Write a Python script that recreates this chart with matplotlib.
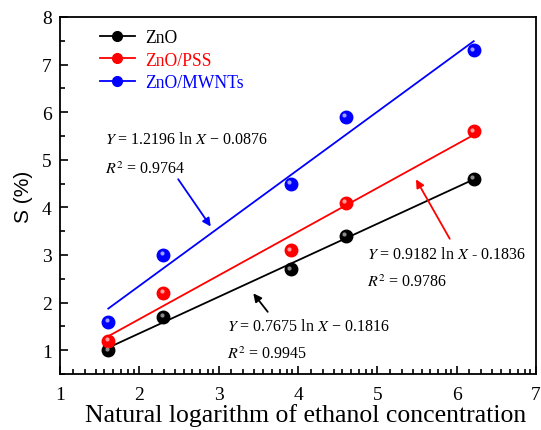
import numpy as np
import matplotlib
matplotlib.use("Agg")
import matplotlib.pyplot as plt
from matplotlib.lines import Line2D
from matplotlib import transforms as mtransforms
from matplotlib.ticker import FixedLocator, MultipleLocator

plt.rcParams['font.family'] = ['Liberation Serif', 'DejaVu Serif']
plt.rcParams['mathtext.fontset'] = 'stix'

# data
ln_conc = [1.609, 2.303, 3.912, 4.605, 6.215]
series_names = ["ZnO", "ZnO/PSS", "ZnO/MWNTs"]
zno = [1.0, 1.7, 2.7, 3.4, 4.6]
zno_pss = [1.2, 2.2, 3.1, 4.1, 5.6]
zno_mwnts = [1.6, 3.0, 4.5, 5.9, 7.3]
slopes = [0.7675, 0.9182, 1.2196]
intercepts = [-0.1816, -0.1836, -0.0876]
eq_texts = [r"$Y$ = 0.7675 ln $X$ − 0.1816", r"$Y$ = 0.9182 ln $X$ - 0.1836", r"$Y$ = 1.2196 ln $X$ − 0.0876"]
r2_texts = [r"$R^2$ = 0.9945", r"$R^2$ = 0.9786", r"$R^2$ = 0.9764"]
colors = ["black", "red", "blue"]
hl_colors = ["#9a9a9a", "#ffb0b0", "#b0b0ff"]

fig = plt.figure(figsize=(5.41, 4.31), dpi=100)
ax = fig.add_axes([60/541, 1-375/431, (536-60)/541, (375-18)/431])

x = np.array(ln_conc)
for ys, a, b, c, hc in zip([zno, zno_pss, zno_mwnts], slopes, intercepts, colors, hl_colors):
    xf = np.array([x[0], x[-1]])
    ax.plot(xf, a * xf + b, color=c, lw=1.3, zorder=2)
    ax.plot(x, ys, 'o', ms=9, mfc=c, mec=c, zorder=3)
    off = mtransforms.offset_copy(ax.transData, fig=fig, x=-1.2, y=1.2, units='points')
    ax.plot(x, ys, 'o', ms=3, mfc=hc, mec='none', alpha=0.9, zorder=4, transform=off)

ax.set_xlim(1, 7)
ax.set_ylim(0.5, 8)
ax.set_xticks([1, 2, 3, 4, 5, 6, 7])
ax.set_yticks([1, 2, 3, 4, 5, 6, 7, 8])
fr = [0.16, 0.31, 0.45, 0.56, 0.67, 0.77, 0.86, 0.93]
ax.xaxis.set_minor_locator(FixedLocator([m + f for m in range(1, 7) for f in fr]))
ax.yaxis.set_minor_locator(MultipleLocator(0.5))
ax.tick_params(which='both', direction='in', top=False, right=False, labelsize=14, width=1.2)
ax.tick_params(axis='x', which='major', pad=9)
ax.tick_params(axis='y', which='major', pad=6)
ax.tick_params(which='major', length=6)
ax.tick_params(which='minor', length=3.5)
for s in ax.spines.values():
    s.set_linewidth(1.3)

ax.set_xlabel("Natural logarithm of ethanol concentration", fontsize=18.5)
ax.xaxis.set_label_coords(0.515, -0.08)
ax.set_ylabel("S (%)", fontsize=15, family=['Liberation Sans', 'DejaVu Sans'], labelpad=6)

handles = [Line2D([0], [0], color=c, lw=1.3, marker='o', ms=7, mfc=c, mec=c) for c in colors]
leg = ax.legend(handles, series_names, loc='upper left', bbox_to_anchor=(0.05, 1.01),
                frameon=False, fontsize=12.7, handlelength=2.0, handletextpad=0.6, labelspacing=0.3)
for t, c in zip(leg.get_texts(), colors):
    t.set_color(c)

fs = 11.5
# blue annotation
ax.text(1.57, 5.44, eq_texts[2], fontsize=fs, va='center', ha='left')
ax.text(1.57, 4.82, r2_texts[2], fontsize=fs, va='center', ha='left')
ax.annotate("", xy=(2.92, 3.55), xytext=(2.47, 4.64),
            arrowprops=dict(arrowstyle='-|>', color='blue', lw=1.3, mutation_scale=12))
# red annotation
ax.text(4.87, 3.02, eq_texts[1], fontsize=fs, va='center', ha='left')
ax.text(4.87, 2.43, r2_texts[1], fontsize=fs, va='center', ha='left')
ax.annotate("", xy=(5.47, 4.64), xytext=(5.93, 3.29),
            arrowprops=dict(arrowstyle='-|>', color='red', lw=1.3, mutation_scale=12))
# black annotation
ax.text(3.11, 1.51, eq_texts[0], fontsize=fs, va='center', ha='left')
ax.text(3.11, 0.92, r2_texts[0], fontsize=fs, va='center', ha='left')
ax.annotate("", xy=(3.415, 2.24), xytext=(3.64, 1.76),
            arrowprops=dict(arrowstyle='-|>', color='black', lw=1.3, mutation_scale=12))

fig.savefig("out.png", dpi=100)
